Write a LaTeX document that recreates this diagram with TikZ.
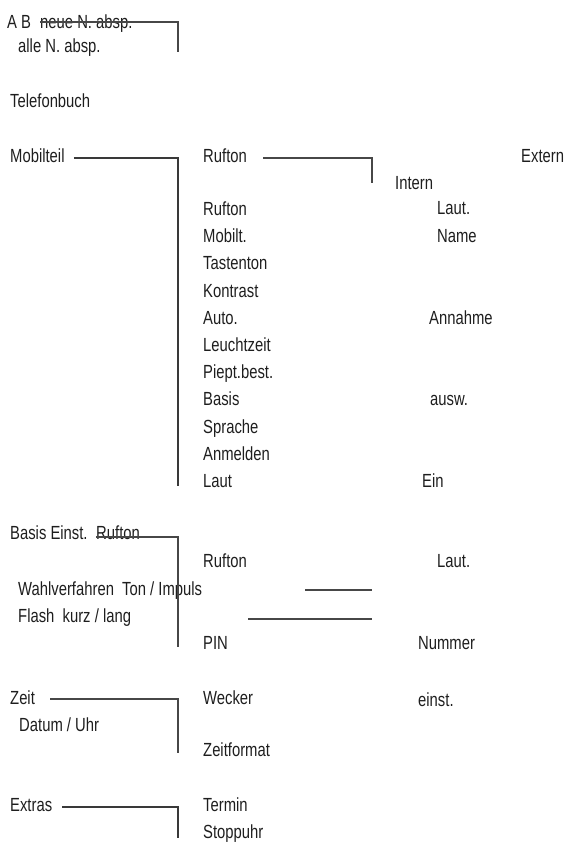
\documentclass[tikz,border=0pt]{standalone}
\usepackage{fontspec}
\setmainfont{Liberation Sans}[FakeStretch=0.78]
\usepackage{xcolor}
\usetikzlibrary{positioning,calc}
\definecolor{ink}{HTML}{1E1E1E}
\definecolor{rule}{HTML}{474747}

\begin{document}
\begin{tikzpicture}[x=1pt,y=-1pt,
  lbl/.style={anchor=base west, inner sep=0pt, text=ink, font=\fontsize{19}{21}\selectfont},
  link/.style={draw=rule, line width=1.1pt},
  heavy/.style={draw=rule!80!black, line width=2pt}]
\useasboundingbox (0,0) rectangle (567,846);

% Menu entries, left column
\node[lbl] (ab) at (7,28) {A B};
\node[lbl] (neue) at (40,28) {neue N. absp.};
\node[lbl] (alle) at (18,52) {alle N. absp.};
\node[lbl] (telefon) at (10,107) {Telefonbuch};
\node[lbl] (mobil) at (10,162) {Mobilteil};
\node[lbl] (basis) at (10,539) {Basis Einst.};
\node[lbl] (basisruf) at (96,539) {Rufton};
\node[lbl] (wahl) at (18,595) {Wahlverfahren\ \ Ton / Impuls};
\node[lbl] (flash) at (18,622) {Flash\ \ kurz / lang};
\node[lbl] (zeit) at (10,704) {Zeit};
\node[lbl] (datum) at (19,731) {Datum / Uhr};
\node[lbl] (extras) at (10,811) {Extras};

% Submenu, Mobilteil
\node[lbl] (rufA) at (203,162) {Rufton};
\node[lbl] (extern) at (521,162) {Extern};
\node[lbl] (intern) at (395,189) {Intern};
\node[lbl] (rufB) at (203,215) {Rufton};
\node[lbl] (rufBlaut) at (437,214) {Laut.};
\node[lbl] (mobilt) at (203,242) {Mobilt.};
\node[lbl] (mobiltname) at (437,242) {Name};
\node[lbl] (tasten) at (203,269) {Tastenton};
\node[lbl] (kontrast) at (203,297) {Kontrast};
\node[lbl] (auto) at (203,324) {Auto.};
\node[lbl] (annahme) at (429,324) {Annahme};
\node[lbl] (leucht) at (203,351) {Leuchtzeit};
\node[lbl] (piept) at (203,378) {Piept.best.};
\node[lbl] (basisB) at (203,405) {Basis};
\node[lbl] (ausw) at (430,405) {ausw.};
\node[lbl] (sprache) at (203,433) {Sprache};
\node[lbl] (anmelden) at (203,460) {Anmelden};
\node[lbl] (laut) at (203,487) {Laut};
\node[lbl] (ein) at (422,487) {Ein};

% Submenu, Basis
\node[lbl] (rufC) at (203,567) {Rufton};
\node[lbl] (rufClaut) at (437,567) {Laut.};
\node[lbl] (pin) at (203,649) {PIN};
\node[lbl] (nummer) at (418,649) {Nummer};

% Submenu, Zeit and Extras
\node[lbl] (wecker) at (203,704) {Wecker};
\node[lbl] (einst) at (418,706) {einst.};
\node[lbl] (format) at (203,756) {Zeitformat};
\node[lbl] (termin) at (203,811) {Termin};
\node[lbl] (stopp) at (203,838) {Stoppuhr};

% Line ends
\coordinate (abEnd) at (178,52);
\coordinate (mobilEnd) at (178,486);
\coordinate (rufEnd) at (372,183);
\coordinate (basisEnd) at (178,647);
\coordinate (wahlA) at (305,590);
\coordinate (wahlB) at (372,590);
\coordinate (flashA) at (248,619);
\coordinate (flashB) at (372,619);
\coordinate (zeitEnd) at (178,753);
\coordinate (extrasEnd) at (178,838);

% Connectors
\draw[link] ([yshift=6pt]neue.base west) -| (abEnd);
\draw[heavy] ([shift={(9pt,4pt)}]mobil.base east) -| (mobilEnd);
\draw[link] ([shift={(16pt,4pt)}]rufA.base east) -| (rufEnd);
\draw[link] ([yshift=2pt]basisruf.base west) -| (basisEnd);
\draw[link] (wahlA) -- (wahlB);
\draw[link] (flashA) -- (flashB);
\draw[link] ([shift={(15pt,5pt)}]zeit.base east) -| (zeitEnd);
\draw[heavy] ([shift={(10pt,4pt)}]extras.base east) -| (extrasEnd);

\end{tikzpicture}
\end{document}
